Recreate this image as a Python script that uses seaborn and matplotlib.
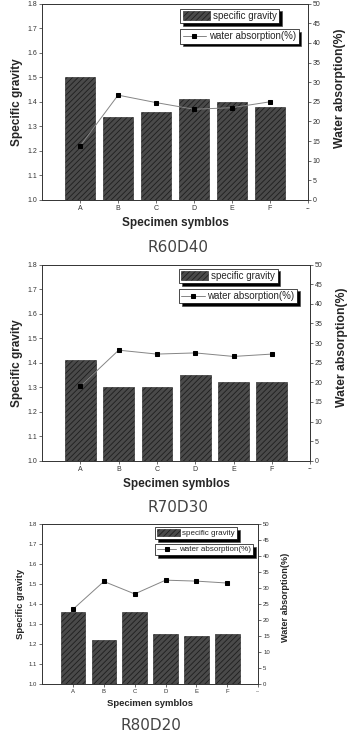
import numpy as np
import matplotlib
matplotlib.use("Agg")
import matplotlib.pyplot as plt
import seaborn as sns

# Data
specimens = ["A", "B", "C", "D", "E", "F"]
mix_names = ["R60D40", "R70D30", "R80D20"]

gravity_r60 = [1.50, 1.34, 1.36, 1.41, 1.40, 1.38]
water_r60 = [13.7, 26.7, 24.8, 23.1, 23.5, 25.0]

gravity_r70 = [1.41, 1.30, 1.30, 1.35, 1.32, 1.32]
water_r70 = [19.0, 28.2, 27.2, 27.5, 26.6, 27.2]

gravity_r80 = [1.36, 1.22, 1.36, 1.25, 1.24, 1.25]
water_r80 = [23.3, 32.0, 28.1, 32.4, 32.1, 31.5]

gravity_ticks = [1.0, 1.1, 1.2, 1.3, 1.4, 1.5, 1.6, 1.7, 1.8]
water_ticks = [0, 5, 10, 15, 20, 25, 30, 35, 40, 45, 50]

sns.set_style("ticks")
plt.rcParams["font.family"] = ["Liberation Sans", "DejaVu Sans"]
plt.rcParams["hatch.linewidth"] = 0.6

fig = plt.figure(figsize=(3.48, 7.35), dpi=100)


# Draw one panel: bars for specific gravity, line for water absorption
def draw_panel(rect, gravity, water, leg1, leg2, rlabel_xy, tick_fs, label_fs,
               rlabel_fs, leg_fs):
    ax = fig.add_axes(rect)
    sns.barplot(x=specimens, y=gravity, ax=ax, color="#4a4a4a", width=0.8,
                edgecolor="#1e1e1e", linewidth=0.4, hatch="//////",
                saturation=1)
    ax.set_ylim(1.0, 1.8)
    ax.set_xlim(-1, 6)
    ax.set_xticks(range(7))
    ax.set_xticklabels(specimens + ["--"], fontsize=tick_fs)
    ax.set_yticks(gravity_ticks)
    ax.set_yticklabels([f"{t:.1f}" for t in gravity_ticks], fontsize=tick_fs)
    ax.set_ylabel("Specific gravity", fontsize=label_fs, fontweight="bold", labelpad=3)
    ax.set_xlabel("Specimen symblos", fontsize=label_fs, fontweight="bold", labelpad=4)

    ax2 = ax.twinx()
    x = np.arange(len(specimens))
    sns.lineplot(x=x, y=water, ax=ax2, color="#858585", linewidth=0.7,
                 marker="s", markersize=3.2, markerfacecolor="black",
                 markeredgecolor="black", label="water absorption(%)",
                 legend=False)
    ax2.set_ylim(0, 50)
    ax2.set_yticks(water_ticks)
    ax2.set_yticklabels([str(t) for t in water_ticks], fontsize=tick_fs, color="#333333")
    ax2.set_ylabel("Water absorption(%)", fontsize=rlabel_fs, fontweight="bold")
    ax2.yaxis.set_label_coords(*rlabel_xy)

    for a in (ax, ax2):
        for s in a.spines.values():
            s.set_visible(True)
            s.set_linewidth(0.6)
            s.set_color("#333333")
        a.tick_params(length=2, width=0.5, pad=1.5, colors="#333333")

    shadow = {"facecolor": "black", "alpha": 1.0}
    bars = ax.patches[0]
    l1 = ax.legend([bars], ["specific gravity"], loc="upper left",
                   bbox_to_anchor=leg1, fontsize=leg_fs, frameon=True,
                   fancybox=False, shadow=shadow, framealpha=1,
                   edgecolor="black", borderpad=0.25, handlelength=2.8,
                   handleheight=1.0, handletextpad=0.3, borderaxespad=0)
    l1.get_frame().set_linewidth(0.5)
    line = ax2.get_lines()[0]
    l2 = ax2.legend([line], ["water absorption(%)"], loc="upper left",
                    bbox_to_anchor=leg2, fontsize=leg_fs, frameon=True,
                    fancybox=False, shadow=shadow, framealpha=1,
                    edgecolor="black", borderpad=0.25, handlelength=2.4,
                    handletextpad=0.3, borderaxespad=0, numpoints=1)
    l2.get_frame().set_linewidth(0.5)
    return ax


draw_panel([0.121, 0.728, 0.764, 0.267], gravity_r60, water_r60,
           (0.52, 0.975), (0.52, 0.872), (1.098, 0.571), 5, 8.5, 8.8, 7)
draw_panel([0.121, 0.373, 0.770, 0.267], gravity_r70, water_r70,
           (0.51, 0.98), (0.51, 0.878), (1.098, 0.58), 5, 8.5, 8.8, 7)
draw_panel([0.121, 0.0694, 0.621, 0.218], gravity_r80, water_r80,
           (0.523, 0.98), (0.523, 0.875), (1.105, 0.54), 4.3, 6.8, 6.6, 5.8)

title_style = dict(ha="center", va="center", fontsize=11, color="#444444",
                   family="DejaVu Sans")
fig.text(178 / 348, 1 - 247 / 735, mix_names[0], **title_style)
fig.text(178 / 348, 1 - 508 / 735, mix_names[1], **title_style)
fig.text(151 / 348, 1 - 725.5 / 735, mix_names[2], **title_style)

fig.savefig("out.png", dpi=100)
